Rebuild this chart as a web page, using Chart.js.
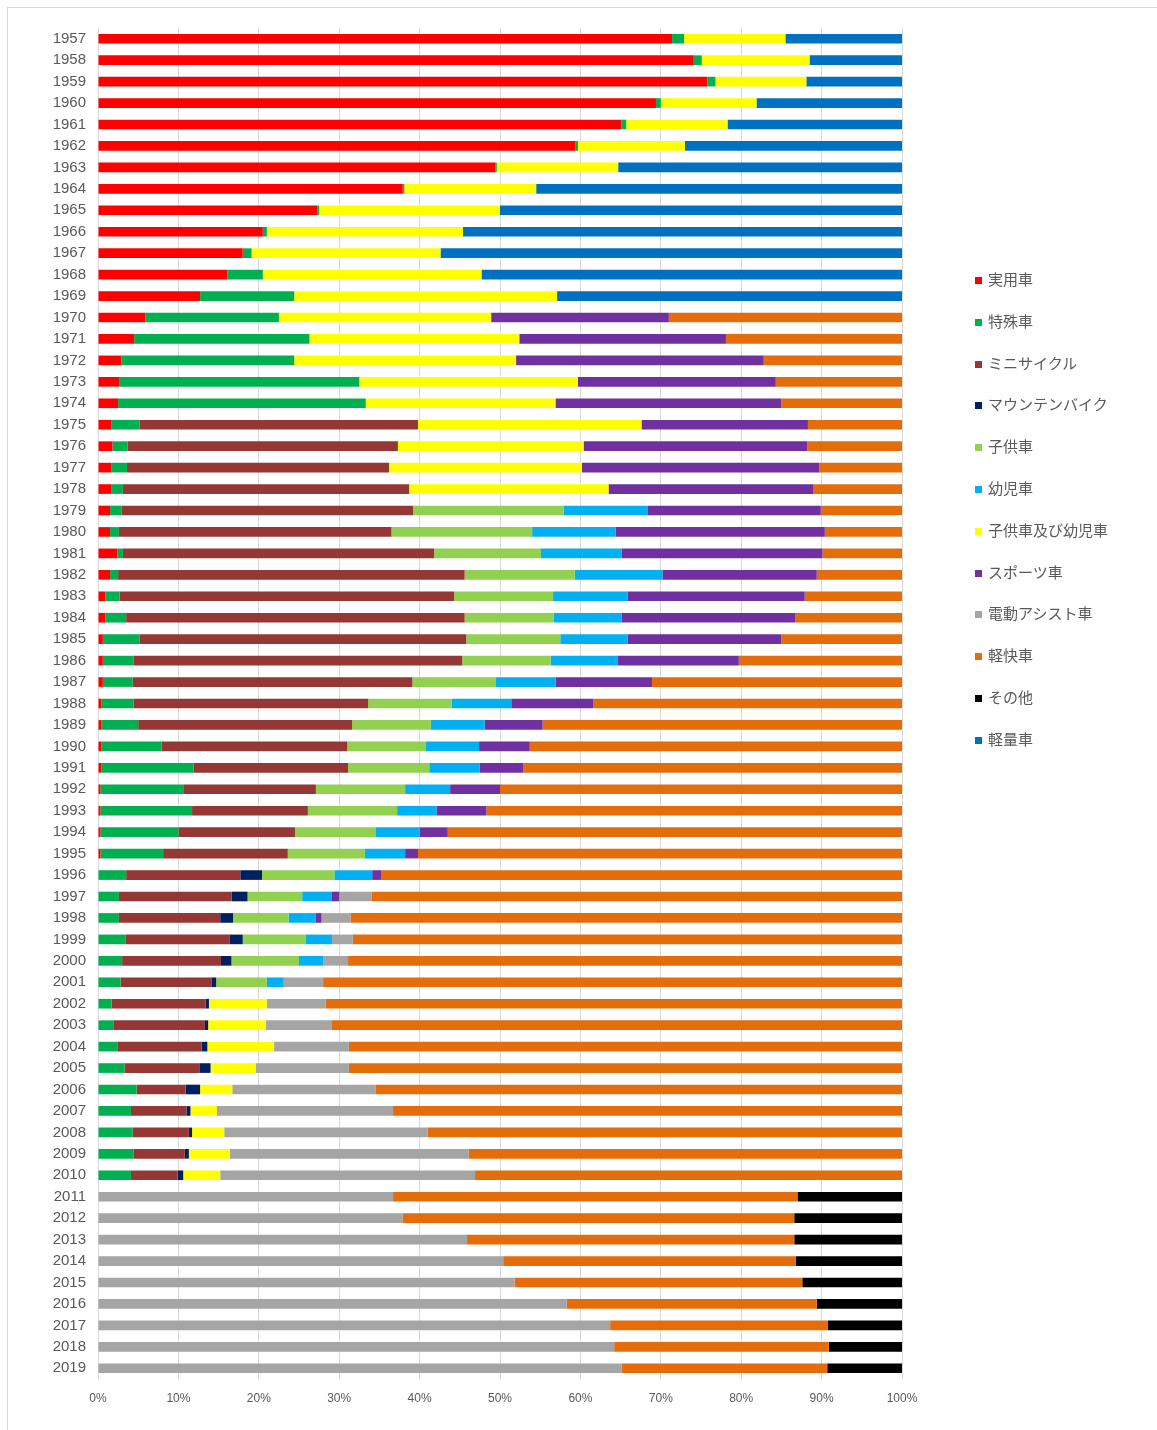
<!DOCTYPE html>
<html>
<head>
<meta charset="utf-8">
<script src="https://cdn.jsdelivr.net/npm/chart.js@4/dist/chart.umd.min.js"></script>
<style>
  body { margin: 0; background: #fff; }
  #wrap { position: relative; width: 1157px; height: 1430px; overflow: hidden; }
  #frame { position: absolute; left: 7px; top: 7px; width: 1160px; height: 1440px; border: 1px solid #d9d9d9; }
  canvas { position: absolute; left: 0; top: 0; }
  #legend { position: absolute; left: 975px; top: 0; margin: 0; padding: 0; list-style: none;
            font-family: "Noto Sans CJK JP", "Noto Sans", sans-serif; font-size: 15px; color: #595959; }
  #legend li { position: absolute; left: 0; white-space: nowrap; height: 20px; line-height: 20px; }
  #legend li span { display: inline-block; width: 7px; height: 7px; margin-right: 6px; vertical-align: 1px; }
</style>
</head>
<body>
<div id="wrap">
  <div id="frame"></div>
  <canvas id="chart" width="1157" height="1430"></canvas>
  <ul id="legend"></ul>
</div>
<script>
const _ = null;

// categories
const years = [
  '1957', '1958', '1959',
  '1960', '1961', '1962', '1963', '1964', '1965', '1966', '1967', '1968', '1969',
  '1970', '1971', '1972', '1973', '1974', '1975', '1976', '1977', '1978', '1979',
  '1980', '1981', '1982', '1983', '1984', '1985', '1986', '1987', '1988', '1989',
  '1990', '1991', '1992', '1993', '1994', '1995', '1996', '1997', '1998', '1999',
  '2000', '2001', '2002', '2003', '2004', '2005', '2006', '2007', '2008', '2009',
  '2010', '2011', '2012', '2013', '2014', '2015', '2016', '2017', '2018', '2019'
];

// shares in % (one row per decade)
const jitsuyo = [
  71.4, 74.1, 75.8,
  69.4, 65.1, 59.4, 49.4, 37.9, 27.3, 20.5, 18.0, 16.1, 12.7,
  5.9, 4.5, 2.9, 2.7, 2.5, 1.7, 1.8, 1.7, 1.7, 1.5,
  1.5, 2.4, 1.5, 0.9, 0.9, 0.6, 0.6, 0.6, 0.4, 0.4,
  0.4, 0.4, 0.3, 0.3, 0.3, 0.3, _, _, _, _,
  _, _, _, _, _, _, _, _, _, _,
  _, _, _, _, _, _, _, _, _, _
];
const tokushu = [
  1.5, 1.0, 1.0,
  0.6, 0.6, 0.3, 0.2, 0.2, 0.2, 0.5, 1.1, 4.4, 11.7,
  16.6, 21.8, 21.5, 29.8, 30.8, 3.5, 1.9, 1.9, 1.4, 1.4,
  1.1, 0.7, 1.0, 1.8, 2.6, 4.6, 3.8, 3.7, 4.0, 4.6,
  7.5, 11.5, 10.3, 11.4, 9.7, 7.8, 3.5, 2.6, 2.6, 3.4,
  3.0, 2.8, 1.7, 1.9, 2.4, 3.3, 4.8, 4.1, 4.3, 4.4,
  4.1, _, _, _, _, _, _, _, _, _
];
const minicycle = [
  _, _, _,
  _, _, _, _, _, _, _, _, _, _,
  _, _, _, _, _, 34.6, 33.6, 32.6, 35.6, 36.3,
  33.9, 38.7, 43.1, 41.6, 42.1, 40.6, 40.9, 34.8, 29.2, 26.6,
  23.1, 19.2, 16.5, 14.4, 14.5, 15.5, 14.2, 14.0, 12.6, 13.0,
  12.3, 11.3, 11.7, 11.4, 10.5, 9.3, 6.1, 6.9, 7.0, 6.4,
  5.8, _, _, _, _, _, _, _, _, _
];
const mtb = [
  _, _, _,
  _, _, _, _, _, _, _, _, _, _,
  _, _, _, _, _, _, _, _, _, _,
  _, _, _, _, _, _, _, _, _, _,
  _, _, _, _, _, _, 2.7, 2.0, 1.6, 1.6,
  1.3, 0.6, 0.4, 0.4, 0.7, 1.4, 1.8, 0.5, 0.4, 0.5,
  0.7, _, _, _, _, _, _, _, _, _
];
const kodomo = [
  _, _, _,
  _, _, _, _, _, _, _, _, _, _,
  _, _, _, _, _, _, _, _, _, 18.7,
  17.5, 13.3, 13.7, 12.3, 11.1, 11.7, 11.0, 10.4, 10.4, 9.8,
  9.8, 10.1, 11.1, 11.1, 10.0, 9.6, 9.0, 6.8, 6.9, 7.8,
  8.4, 6.3, _, _, _, _, _, _, _, _,
  _, _, _, _, _, _, _, _, _, _
];
const youji = [
  _, _, _,
  _, _, _, _, _, _, _, _, _, _,
  _, _, _, _, _, _, _, _, _, 10.5,
  10.4, 10.0, 10.9, 9.3, 8.4, 8.4, 8.3, 7.4, 7.4, 6.7,
  6.6, 6.3, 5.6, 4.9, 5.5, 5.0, 4.7, 3.7, 3.4, 3.3,
  3.0, 2.1, _, _, _, _, _, _, _, _,
  _, _, _, _, _, _, _, _, _, _
];
const kodomoYouji = [
  12.6, 13.4, 11.3,
  11.9, 12.6, 13.3, 15.1, 16.4, 22.5, 24.4, 23.5, 27.2, 32.7,
  26.4, 26.1, 27.6, 27.2, 23.6, 27.8, 23.1, 24.0, 24.8, _,
  _, _, _, _, _, _, _, _, _, _,
  _, _, _, _, _, _, _, _, _, _,
  _, _, 7.2, 7.2, 8.3, 5.6, 4.0, 3.3, 4.0, 5.1,
  4.6, _, _, _, _, _, _, _, _, _
];
const sports = [
  _, _, _,
  _, _, _, _, _, _, _, _, _, _,
  22.1, 25.7, 30.8, 24.6, 28.1, 20.7, 27.8, 29.5, 25.5, 21.5,
  26.0, 25.0, 19.2, 22.0, 21.6, 19.1, 15.1, 12.0, 10.2, 7.2,
  6.3, 5.4, 6.2, 6.2, 3.5, 1.6, 1.1, 0.9, 0.7, _,
  _, _, _, _, _, _, _, _, _, _,
  _, _, _, _, _, _, _, _, _, _
];
const dendo = [
  _, _, _,
  _, _, _, _, _, _, _, _, _, _,
  _, _, _, _, _, _, _, _, _, _,
  _, _, _, _, _, _, _, _, _, _,
  _, _, _, _, _, _, _, 4.0, 3.6, 2.6,
  3.1, 4.9, 7.3, 8.2, 9.3, 11.6, 17.8, 21.9, 25.3, 29.7,
  31.7, 36.7, 37.9, 45.9, 50.4, 51.8, 58.3, 63.7, 64.2, 65.1
];
const keikai = [
  _, _, _,
  _, _, _, _, _, _, _, _, _, _,
  29.0, 21.9, 17.2, 15.7, 15.0, 11.7, 11.8, 10.3, 11.0, 10.1,
  9.6, 9.9, 10.6, 12.1, 13.3, 15.0, 20.3, 31.1, 38.4, 44.7,
  46.3, 47.1, 50.0, 51.7, 56.5, 60.2, 64.8, 66.0, 68.6, 68.3,
  68.9, 72.0, 71.7, 70.9, 68.8, 68.8, 65.5, 63.3, 59.0, 53.9,
  53.1, 50.3, 48.7, 40.7, 36.4, 35.8, 31.1, 27.1, 26.7, 25.6
];
const sonota = [
  _, _, _,
  _, _, _, _, _, _, _, _, _, _,
  _, _, _, _, _, _, _, _, _, _,
  _, _, _, _, _, _, _, _, _, _,
  _, _, _, _, _, _, _, _, _, _,
  _, _, _, _, _, _, _, _, _, _,
  _, 13.0, 13.4, 13.4, 13.2, 12.4, 10.6, 9.2, 9.1, 9.3
];
const keiryo = [
  14.5, 11.5, 11.9,
  18.1, 21.7, 27.0, 35.3, 45.5, 50.0, 54.6, 57.4, 52.3, 42.9,
  _, _, _, _, _, _, _, _, _, _,
  _, _, _, _, _, _, _, _, _, _,
  _, _, _, _, _, _, _, _, _, _,
  _, _, _, _, _, _, _, _, _, _,
  _, _, _, _, _, _, _, _, _, _
];

const xTicks = [0, 10, 20, 30, 40, 50, 60, 70, 80, 90, 100];

const series = [
  { label: '実用車', data: jitsuyo, color: '#ff0000' },
  { label: '特殊車', data: tokushu, color: '#00b050' },
  { label: 'ミニサイクル', data: minicycle, color: '#953735' },
  { label: 'マウンテンバイク', data: mtb, color: '#002060' },
  { label: '子供車', data: kodomo, color: '#92d050' },
  { label: '幼児車', data: youji, color: '#00b0f0' },
  { label: '子供車及び幼児車', data: kodomoYouji, color: '#ffff00' },
  { label: 'スポーツ車', data: sports, color: '#7030a0' },
  { label: '電動アシスト車', data: dendo, color: '#a5a5a5' },
  { label: '軽快車', data: keikai, color: '#e46c0a' },
  { label: 'その他', data: sonota, color: '#000000' },
  { label: '軽量車', data: keiryo, color: '#0070c0' }
];

const axisFont = '"Liberation Sans", Arial, sans-serif';

new Chart(document.getElementById('chart'), {
  type: 'bar',
  data: {
    labels: years,
    datasets: series.map(function(s) {
      return {
        label: s.label,
        data: s.data,
        backgroundColor: s.color,
        borderWidth: 0,
        barPercentage: 0.45,
        categoryPercentage: 1.0
      };
    })
  },
  options: {
    indexAxis: 'y',
    responsive: false,
    animation: false,
    layout: { padding: { top: 28, right: 255, bottom: 21, left: 0 } },
    plugins: {
      legend: { display: false },
      tooltip: { enabled: false }
    },
    scales: {
      x: {
        stacked: true,
        min: 0,
        max: 100,
        afterFit: function(scale) { scale.height = 30; },
        afterBuildTicks: function(scale) {
          scale.ticks = xTicks.map(function(v) { return { value: v }; });
        },
        ticks: {
          callback: function(v) { return v + '%'; },
          font: { family: axisFont, size: 12 },
          color: '#595959',
          padding: 12,
          maxRotation: 0
        },
        grid: { color: '#d9d9d9', lineWidth: 1, drawTicks: false },
        border: { display: false }
      },
      y: {
        stacked: true,
        afterFit: function(scale) { scale.width = 98; },
        ticks: {
          font: { family: axisFont, size: 15 },
          color: '#595959',
          padding: 12,
          autoSkip: false
        },
        grid: { display: false, drawTicks: false },
        border: { display: false }
      }
    }
  }
});

// legend
const legend = document.getElementById('legend');
series.forEach(function(s, i) {
  const li = document.createElement('li');
  li.style.top = (269 + i * 41.8) + 'px';
  const box = document.createElement('span');
  box.style.background = s.color;
  li.appendChild(box);
  li.appendChild(document.createTextNode(s.label));
  legend.appendChild(li);
});
</script>
</body>
</html>
